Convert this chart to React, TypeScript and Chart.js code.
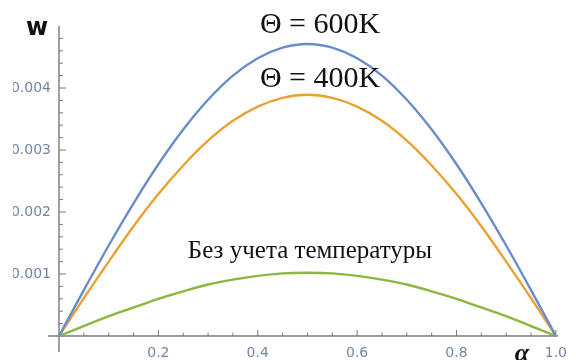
import React, { useEffect, useRef } from "react";
import { Chart, registerables } from "chart.js";

Chart.register(...registerables);

// alpha values (x axis)
const alphaValues = [
  0, 0.05, 0.1, 0.15, 0.2, 0.25, 0.3, 0.35, 0.4, 0.45, 0.5,
  0.55, 0.6, 0.65, 0.7, 0.75, 0.8, 0.85, 0.9, 0.95, 1.0,
];

// Θ = 600K
const w600 = [
  0, 0.00074, 0.00146, 0.00214, 0.00277, 0.00333, 0.00381, 0.0042, 0.00448, 0.00465, 0.00471,
  0.00465, 0.00448, 0.0042, 0.00381, 0.00333, 0.00277, 0.00214, 0.00146, 0.00074, 0,
];

// Θ = 400K
const w400 = [
  0, 0.00061, 0.0012, 0.00177, 0.00229, 0.00275, 0.00315, 0.00347, 0.0037, 0.00384, 0.00389,
  0.00384, 0.0037, 0.00347, 0.00315, 0.00275, 0.00229, 0.00177, 0.0012, 0.00061, 0,
];

// Без учета температуры
const wNoTemp = [
  0, 0.00016, 0.00032, 0.00046, 0.0006, 0.00072, 0.00083, 0.00091, 0.00097, 0.00101, 0.00102,
  0.00101, 0.00097, 0.00091, 0.00083, 0.00072, 0.0006, 0.00046, 0.00032, 0.00016, 0,
];

const xTickLabels = ["0.2", "0.4", "0.6", "0.8", "1.0"];
const yTickLabels = ["0.001", "0.002", "0.003", "0.004"];

const seriesNames = ["Θ = 600K", "Θ = 400K", "Без учета температуры"];
const seriesColors = ["#6a8dc8", "#e9a232", "#8cb73a"];

const AXIS_COLOR = "#7a7a7a";
const TICK_COLOR = "#7485a3";

const findLabel = (labels: string[], v: number) => {
  const l = labels.find((s) => Math.abs(parseFloat(s) - v) < 1e-9);
  return l ?? "";
};

const axesPlugin = {
  id: "mathAxes",
  beforeDatasetsDraw(chart: any) {
    const { ctx, scales } = chart;
    const xs = scales.x;
    const ys = scales.y;
    const x0 = xs.getPixelForValue(0);
    const y0 = ys.getPixelForValue(0);
    const xEnd = xs.getPixelForValue(1.0);
    const yTop = ys.getPixelForValue(0.005);
    ctx.save();
    ctx.strokeStyle = AXIS_COLOR;
    ctx.lineWidth = 1.4;
    // axis lines
    ctx.beginPath();
    ctx.moveTo(x0 - 11, y0);
    ctx.lineTo(xEnd + 2, y0);
    ctx.moveTo(x0, yTop);
    ctx.lineTo(x0, y0 + 16);
    ctx.stroke();
    // x ticks
    ctx.lineWidth = 1;
    ctx.beginPath();
    for (let i = 1; i <= 20; i++) {
      const v = i * 0.05;
      const px = xs.getPixelForValue(v);
      const major = i % 4 === 0;
      ctx.moveTo(px, y0);
      ctx.lineTo(px, y0 - (major ? 6 : 3.5));
    }
    // y ticks
    for (let i = 1; i <= 24; i++) {
      const v = i * 0.0002;
      const py = ys.getPixelForValue(v);
      const major = i % 5 === 0;
      ctx.moveTo(x0, py);
      ctx.lineTo(x0 + (major ? 7 : 4), py);
    }
    ctx.stroke();
    ctx.restore();
  },
  afterDraw(chart: any) {
    const { ctx } = chart;
    ctx.save();
    // crop effect on the left of y tick labels
    ctx.fillStyle = "#ffffff";
    ctx.fillRect(0, 60, 13, 240);
    // axis titles
    ctx.fillStyle = "#111111";
    ctx.font = "bold 24px 'DejaVu Sans', sans-serif";
    ctx.textAlign = "center";
    ctx.textBaseline = "middle";
    ctx.fillText("w", 37, 29);
    ctx.font = "italic bold 26px 'Liberation Serif', 'Times New Roman', serif";
    ctx.textBaseline = "alphabetic";
    ctx.fillText("α", 522, 361);
    // annotations
    ctx.fillStyle = "#111111";
    ctx.textBaseline = "middle";
    ctx.font = "30px 'Liberation Serif', 'Times New Roman', serif";
    ctx.fillText(seriesNames[0], 320, 25);
    ctx.fillText(seriesNames[1], 320, 79);
    ctx.font = "25px 'Liberation Serif', 'Times New Roman', serif";
    ctx.fillText(seriesNames[2], 310, 251);
    ctx.restore();
  },
};

export default function App() {
  const canvasRef = useRef<HTMLCanvasElement | null>(null);

  useEffect(() => {
    document.body.style.margin = "0";
    const canvas = canvasRef.current;
    if (!canvas) return;
    const series = [w600, w400, wNoTemp];
    const chart = new Chart(canvas, {
      type: "line",
      data: {
        datasets: series.map((s, k) => ({
          label: seriesNames[k],
          data: alphaValues.map((a, i) => ({ x: a, y: s[i] })),
          borderColor: seriesColors[k],
          backgroundColor: seriesColors[k],
          borderWidth: 2.4,
          pointRadius: 0,
          tension: 0.4,
          cubicInterpolationMode: "monotone" as const,
          fill: false,
        })),
      },
      options: {
        animation: false,
        responsive: false,
        maintainAspectRatio: false,
        layout: { padding: { top: 26, right: 11, left: 0, bottom: 0 } },
        plugins: {
          legend: { display: false },
          title: { display: false },
          tooltip: { enabled: false },
        },
        scales: {
          x: {
            type: "linear",
            min: 0,
            max: 1,
            grid: { display: false, drawTicks: false },
            border: { display: false },
            afterFit: (scale: any) => {
              scale.height = 24;
            },
            ticks: {
              stepSize: 0.2,
              autoSkip: false,
              maxRotation: 0,
              padding: 9,
              color: TICK_COLOR,
              font: { family: "'DejaVu Sans', sans-serif", size: 14 },
              callback: (v: any) => findLabel(xTickLabels, Number(v)),
            },
          },
          y: {
            type: "linear",
            min: 0,
            max: 0.005,
            grid: { display: false, drawTicks: false },
            border: { display: false },
            afterFit: (scale: any) => {
              scale.width = 59;
            },
            ticks: {
              stepSize: 0.001,
              autoSkip: false,
              padding: 8,
              color: TICK_COLOR,
              font: { family: "'DejaVu Sans', sans-serif", size: 14 },
              callback: (v: any) => findLabel(yTickLabels, Number(v)),
            },
          },
        },
      },
      plugins: [axesPlugin],
    });
    return () => chart.destroy();
  }, []);

  return (
    <div style={{ width: 576, height: 360, background: "#fff" }}>
      <canvas ref={canvasRef} width={576} height={360} style={{ display: "block" }} />
    </div>
  );
}
